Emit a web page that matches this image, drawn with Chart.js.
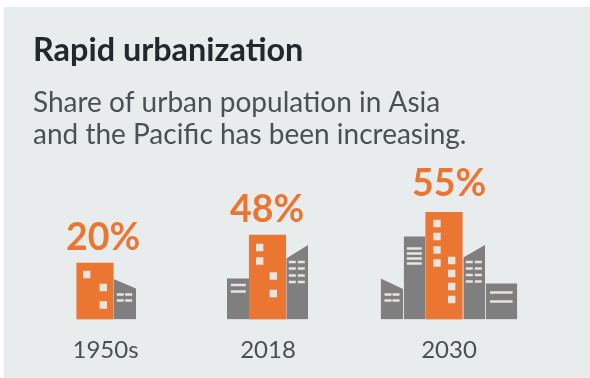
<!DOCTYPE html>
<html lang="en">
<head>
<meta charset="utf-8">
<title>Rapid urbanization</title>
<script src="https://cdn.jsdelivr.net/npm/chart.js@4"></script>
<style>
  html, body { margin: 0; padding: 0; background: #ffffff; }
  #frame { position: absolute; left: 0; top: 0; width: 590px; height: 378px; }
  #panel { position: absolute; left: 4px; top: 7px; right: 0; bottom: 0; background: #e9eced; }
  canvas { position: absolute; left: 0; top: 0; }
</style>
</head>
<body>
<div id="frame">
  <div id="panel"></div>
  <canvas id="chart" width="590" height="378"></canvas>
</div>
<script>
// Urban share of the population per period
const periods = ['1950s', '2018', '2030'];
const urbanShare = [20, 48, 55];
const shareLabels = ['20%', '48%', '55%'];

// Centre of each skyline on the horizontal axis, and of its period tower
const periodCentres = [105.5, 268, 449];
const towerCentres = [95, 267.5, 444];
const labelCentres = [103, 267, 449];
const labelLift = [25, 25, 28];

// Skylines: grey blocks as [x, height] pairs along each roof
const greyRoofs = [
  [[113.6, 40.5], [136, 31]],
  [[227, 41], [249, 41]],
  [[286.3, 61], [308, 74.5]],
  [[380.7, 41], [403, 30.5]],
  [[403.7, 83], [425.5, 83]],
  [[463.3, 62], [485, 74.5]],
  [[485.6, 36], [517.3, 36]]
];

// Tower windows as [x, height]
const towerWindows = [
  [86.7, 45], [103.3, 32], [103.3, 14.5],
  [259.7, 72], [259.7, 58.5], [273.3, 43.5], [273.3, 26],
  [437, 96], [437, 83], [437, 69.5], [437, 56.5],
  [451.7, 59], [451.7, 46], [451.7, 33], [451.7, 20]
];

// Small paired windows on the grey blocks
const shortSlats = [
  [120.3, 25], [128.7, 25], [120.3, 19], [128.7, 19],
  [292.3, 57.5], [301.3, 57.5], [292.3, 51], [301.3, 51],
  [292.3, 44], [301.3, 44], [292.3, 37.5], [301.3, 37.5],
  [388, 25], [396, 25], [388, 19], [396, 19],
  [469.3, 57.5], [478.3, 57.5], [469.3, 51], [478.3, 51],
  [469.3, 44.5], [478.3, 44.5], [469.3, 38], [478.3, 38]
];

// Medium and wide bands on the grey blocks
const mediumSlats = [
  [238.3, 34.5], [238.3, 28],
  [414.3, 71], [414.3, 66], [414.3, 61], [414.3, 56]
];
const wideSlats = [[501.3, 27], [501.3, 18]];

const ORANGE = '#ea7631';
const GREY = '#7f7f7f';
const LIGHT = '#e9e4de';
const TEXT_DARK = '#23282c';
const TEXT_MID = '#4b5054';
const FONT = 'Lato, sans-serif';

const toPoints = list => list.map(([x, y]) => ({ x, y }));

const greyDatasets = greyRoofs.map(roof => ({
  type: 'line',
  data: toPoints(roof),
  yAxisID: 'ySkyline',
  backgroundColor: GREY,
  borderWidth: 0,
  fill: 'origin',
  pointRadius: 0,
  tension: 0,
  order: 3
}));

// One axis per period: each skyline is a pictogram drawn to its own scale
const towerAxes = ['yEarly', 'yMiddle', 'yLate'];
const towerDatasets = urbanShare.map((share, i) => ({
  type: 'bar',
  data: [{ x: towerCentres[i], y: share }],
  yAxisID: towerAxes[i],
  backgroundColor: ORANGE,
  barThickness: 36.5,
  grouped: false,
  order: 2
}));

const slatDataset = (list, halfLength) => ({
  type: 'line',
  data: toPoints(list),
  yAxisID: 'ySkyline',
  showLine: false,
  pointStyle: 'line',
  pointRadius: halfLength,
  pointBorderColor: LIGHT,
  pointBorderWidth: 2.5,
  order: 1
});

const windowDataset = {
  type: 'line',
  data: toPoints(towerWindows),
  yAxisID: 'ySkyline',
  showLine: false,
  pointStyle: 'rect',
  pointRadius: 5.2,
  pointBackgroundColor: LIGHT,
  pointBorderWidth: 0,
  order: 1
};

// Percentages sit just above each orange tower
const shareLabelPlugin = {
  id: 'shareLabels',
  afterDatasetsDraw(chart) {
    const { ctx } = chart;
    ctx.save();
    ctx.font = 'bold 37.5px ' + FONT;
    ctx.fillStyle = ORANGE;
    ctx.textAlign = 'center';
    ctx.textBaseline = 'middle';
    urbanShare.forEach((share, i) => {
      const top = chart.scales[towerAxes[i]].getPixelForValue(share);
      ctx.fillText(shareLabels[i], chart.scales.x.getPixelForValue(labelCentres[i]), top - labelLift[i]);
    });
    ctx.restore();
  }
};

const hiddenAxis = max => ({ display: false, min: 0, max });

new Chart(document.getElementById('chart'), {
  type: 'bar',
  data: {
    datasets: [...greyDatasets, ...towerDatasets,
      slatDataset(shortSlats, 3.5),
      slatDataset(mediumSlats, 7.5),
      slatDataset(wideSlats, 11.3),
      windowDataset]
  },
  plugins: [shareLabelPlugin],
  options: {
    responsive: false,
    animation: false,
    layout: { autoPadding: false, padding: { left: 33, right: 0, top: 0, bottom: 0 } },
    plugins: {
      legend: { display: false },
      tooltip: { enabled: false },
      title: {
        display: true,
        align: 'start',
        text: 'Rapid urbanization',
        color: TEXT_DARK,
        font: { family: FONT, size: 32.4, weight: 'bold', lineHeight: 0.926 },
        padding: { top: 36, bottom: 0 }
      },
      subtitle: {
        display: true,
        align: 'start',
        text: ['Share of urban population in Asia', 'and the Pacific has been increasing.'],
        color: TEXT_MID,
        font: { family: FONT, size: 28, weight: 'normal', lineHeight: 1.143 },
        padding: { top: 21, bottom: 9 }
      }
    },
    scales: {
      x: {
        type: 'linear',
        offset: false,
        min: 33,
        max: 590,
        border: { display: false },
        grid: { display: false, drawTicks: false },
        afterBuildTicks(scale) {
          scale.ticks = periodCentres.map(value => ({ value }));
        },
        afterFit(scale) { scale.height = 58.5; },
        ticks: {
          autoSkip: false,
          maxRotation: 0,
          padding: 16,
          color: TEXT_MID,
          font: { family: FONT, size: 24 },
          callback: (value, index) => periods[index]
        }
      },
      ySkyline: hiddenAxis(159.5),
      yEarly: hiddenAxis(56.46),
      yMiddle: hiddenAxis(90.6),
      yLate: hiddenAxis(81.76)
    }
  }
});
</script>
</body>
</html>
